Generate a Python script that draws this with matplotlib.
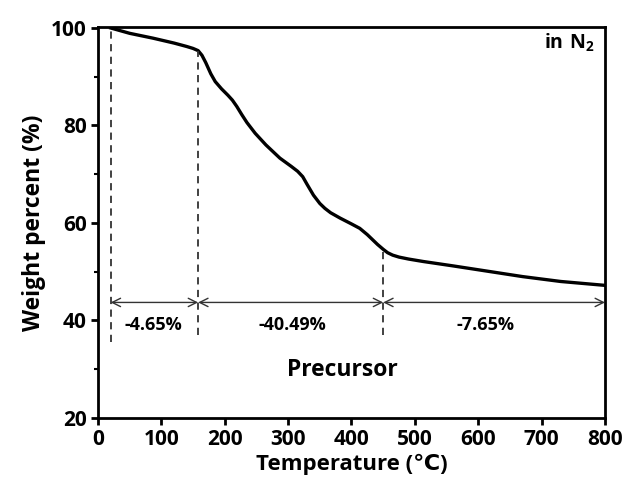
import matplotlib
matplotlib.use("Agg")
import matplotlib.pyplot as plt
from matplotlib.ticker import MultipleLocator

plt.rcParams['font.family'] = ['Open Sans', 'DejaVu Sans']
plt.rcParams['font.weight'] = 'bold'
plt.rcParams['mathtext.fontset'] = 'custom'
plt.rcParams['mathtext.rm'] = 'Open Sans:bold'
plt.rcParams['mathtext.bf'] = 'Open Sans:bold'
plt.rcParams['mathtext.it'] = 'Open Sans:bold'

temperature = [20, 50, 87, 120, 140, 150, 158, 164, 170, 178, 185, 195, 205, 212, 219,
               227, 235, 248, 265, 287, 305, 315, 323, 330, 340, 350, 358, 367, 382,
               400, 413, 425, 433, 441, 450, 457, 465, 475, 490, 513, 560, 620, 670,
               730, 800]
weight = [100, 98.9, 97.9, 96.9, 96.2, 95.8, 95.35, 94.4, 92.9, 90.6, 89.0, 87.5, 86.2,
          85.2, 83.9, 82.2, 80.6, 78.4, 76.0, 73.3, 71.6, 70.6, 69.5, 67.9, 65.7, 64.0,
          63.0, 62.1, 61.0, 59.8, 58.9, 57.6, 56.6, 55.6, 54.6, 53.9, 53.4, 53.0, 52.6,
          52.1, 51.2, 50.0, 49.0, 48.0, 47.2]

stage_bounds = [20, 158, 450, 800]
stage_top = [100, 95.35, 54.6]
stage_labels = ['-4.65%', '-40.49%', '-7.65%']
stage_label_x = [87, 307, 612]

fig = plt.figure(figsize=(6.31, 4.97), dpi=100)
ax = fig.add_axes([0.1553, 0.159, 0.8035, 0.7867])

ax.plot(temperature, weight, color='black', lw=2.4, solid_joinstyle='round')

# dashed vertical guides
dash_bottom = [35.6, 37.0, 37.0]
for x, top, bot in zip(stage_bounds[:3], stage_top, dash_bottom):
    ax.plot([x, x], [bot, top], ls=(0, (4, 3)), color='#333333', lw=1.3)

arrow_y = 43.7
for i in range(3):
    ax.annotate('', xy=(stage_bounds[i + 1], arrow_y), xytext=(stage_bounds[i], arrow_y),
                arrowprops=dict(arrowstyle='<->', color='#333333', lw=1.0,
                                shrinkA=0, shrinkB=0, mutation_scale=15))
    ax.text(stage_label_x[i], 39.1, stage_labels[i], ha='center', va='center',
            fontsize=13, fontweight='bold')

ax.text(385, 29.8, 'Precursor', ha='center', va='center', fontsize=16.5, fontweight='bold')
ax.text(783, 97, r'$\mathbf{in\ N_2}$', ha='right', va='center', fontsize=14)

ax.set_xlim(0, 800)
ax.set_ylim(20, 100.2)
ax.xaxis.set_major_locator(MultipleLocator(100))
ax.yaxis.set_major_locator(MultipleLocator(20))
ax.yaxis.set_minor_locator(MultipleLocator(10))
ax.tick_params(axis='both', which='major', direction='out', length=5, width=2,
               labelsize=15, pad=3)
ax.tick_params(axis='y', which='minor', direction='out', length=3, width=1.5)
for lab in ax.get_xticklabels() + ax.get_yticklabels():
    lab.set_fontweight('bold')
for s in ax.spines.values():
    s.set_linewidth(2)

ax.set_xlabel('Temperature (℃)', fontsize=16, fontweight='bold', labelpad=3)
ax.set_ylabel('Weight percent (%)', fontsize=16.5, fontweight='bold', labelpad=4)

fig.savefig('out.png', dpi=100)
